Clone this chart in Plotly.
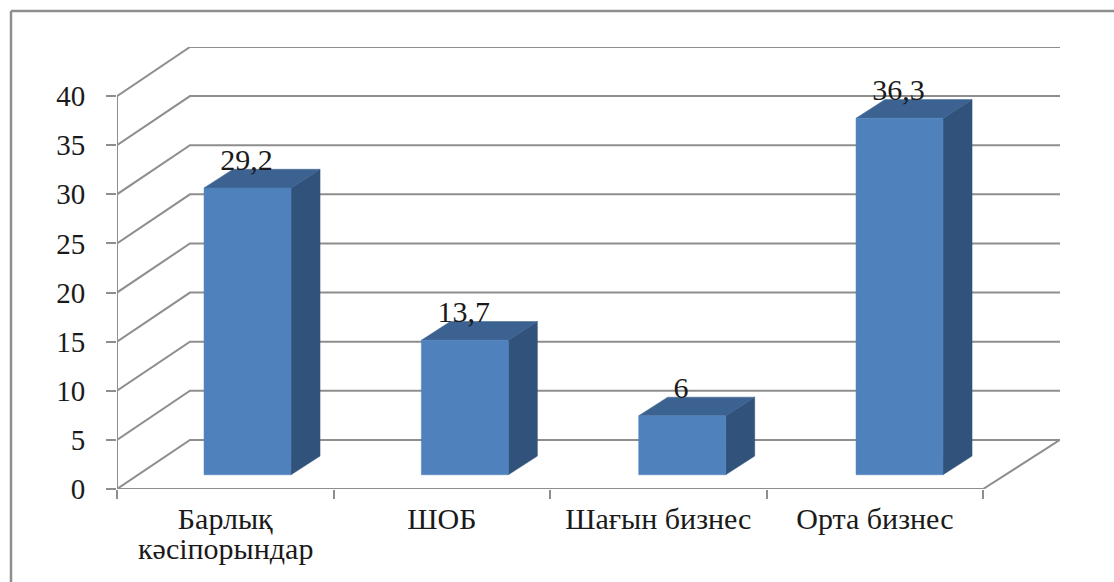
import plotly.graph_objects as go

# Chart values
categories = ["Барлық", "ШОБ", "Шағын бизнес", "Орта бизнес"]
second_lines = ["кәсіпорындар", "", "", ""]
values = [29.2, 13.7, 6, 36.3]
value_labels = ["29,2", "13,7", "6", "36,3"]
y_ticks = [0, 5, 10, 15, 20, 25, 30, 35, 40]

# Pseudo-3D projection, in axis units
WALL_DX = 0.337      # horizontal shift of the back wall
WALL_DY = 5.0        # vertical shift of the back wall
WALL_END = 4.355     # right end of the back wall
BAR_FIRST = 0.6028   # centre of the first column's front face
BAR_PITCH = 1.0037   # distance between column centres
BAR_BASE = 1.45
BAR_HALF = 0.2009
BAR_DX = 0.134
BAR_DY = 1.9
LABEL_LIFT = 1.1

GREY = "#8e8e8e"
FRONT = "#4f81bd"
TOP = "#3c6291"
SIDE = "#31527a"
SERIF = "Liberation Serif"
FONT_SIZE = 30
TICK_SIZE = 29
TEXT = "#1a1a1a"

fig = go.Figure()


def line(xs, ys):
    fig.add_trace(go.Scatter(x=xs, y=ys, mode="lines", cliponaxis=False,
                             line=dict(color=GREY, width=2), hoverinfo="skip"))


def face(xs, ys, color):
    fig.add_trace(go.Scatter(x=xs, y=ys, mode="lines", fill="toself", fillcolor=color,
                             cliponaxis=False, line=dict(color=color, width=0.5),
                             hoverinfo="skip"))


# Wall gridlines with their diagonal run along the side wall
for t in y_ticks:
    line([0, WALL_DX, WALL_END], [t, t + WALL_DY, t + WALL_DY])

# Axis lines and the right edge of the floor
line([0, 0], [y_ticks[0], y_ticks[-1]])
line([0, len(categories)], [0, 0])
line([len(categories), WALL_END], [0, WALL_DY])

# Each column is three filled faces
centres = [BAR_FIRST + i * BAR_PITCH for i in range(len(values))]
for xc, v in zip(centres, values):
    x0, x1 = xc - BAR_HALF, xc + BAR_HALF
    y0, y1 = BAR_BASE, BAR_BASE + v
    face([x1, x1 + BAR_DX, x1 + BAR_DX, x1, x1], [y0, y0 + BAR_DY, y1 + BAR_DY, y1, y0], SIDE)
    face([x0, x0 + BAR_DX, x1 + BAR_DX, x1, x0], [y1, y1 + BAR_DY, y1 + BAR_DY, y1, y1], TOP)
    face([x0, x1, x1, x0, x0], [y0, y0, y1, y1, y0], FRONT)

# Value labels above the columns
fig.add_trace(go.Scatter(
    x=[xc - 0.005 for xc in centres],
    y=[v + BAR_BASE + LABEL_LIFT for v in values],
    mode="text", text=value_labels, textposition="top center", cliponaxis=False,
    textfont=dict(family=SERIF, size=FONT_SIZE, color=TEXT), hoverinfo="skip"))

# Second line of the long category label, set tighter than a native line break
for i, s in enumerate(second_lines):
    if s:
        fig.add_annotation(x=i + 0.5, y=0, xref="x", yref="y", text=s, showarrow=False,
                           yanchor="middle", yshift=-59,
                           font=dict(family=SERIF, size=FONT_SIZE, color=TEXT))

# Outer frame: only the top and left edges are visible
fig.add_shape(type="line", xref="paper", yref="paper", x0=-106 / 943, x1=1114 / 943,
              y0=1 + 36 / 442, y1=1 + 36 / 442, line=dict(color=GREY, width=2.5))
fig.add_shape(type="line", xref="paper", yref="paper", x0=-106 / 943, x1=-106 / 943,
              y0=1 + 36 / 442, y1=-93 / 442, line=dict(color=GREY, width=2.5))

fig.update_layout(
    width=1114, height=582, showlegend=False,
    margin=dict(l=117, r=54, t=47, b=93, pad=0),
    paper_bgcolor="white", plot_bgcolor="white",
    xaxis=dict(range=[0, WALL_END], showgrid=False, zeroline=False, showline=False,
               tickmode="array", tickvals=[i + 0.5 for i in range(len(categories))],
               ticktext=categories, ticks="", ticklabelstandoff=9,
               tickfont=dict(family=SERIF, size=FONT_SIZE, color=TEXT),
               minor=dict(tickmode="array", tickvals=list(range(len(categories) + 1)),
                          ticks="outside", ticklen=9, tickwidth=2, tickcolor=GREY, showgrid=False)),
    yaxis=dict(range=[0, y_ticks[-1] + WALL_DY], showgrid=False, zeroline=False, showline=False,
               tickmode="array", tickvals=y_ticks, ticktext=[str(t) for t in y_ticks],
               ticks="outside", ticklen=10, tickwidth=2, tickcolor=GREY, ticklabelstandoff=15,
               tickfont=dict(family=SERIF, size=TICK_SIZE, color=TEXT)),
)

fig.write_html("out.html")
